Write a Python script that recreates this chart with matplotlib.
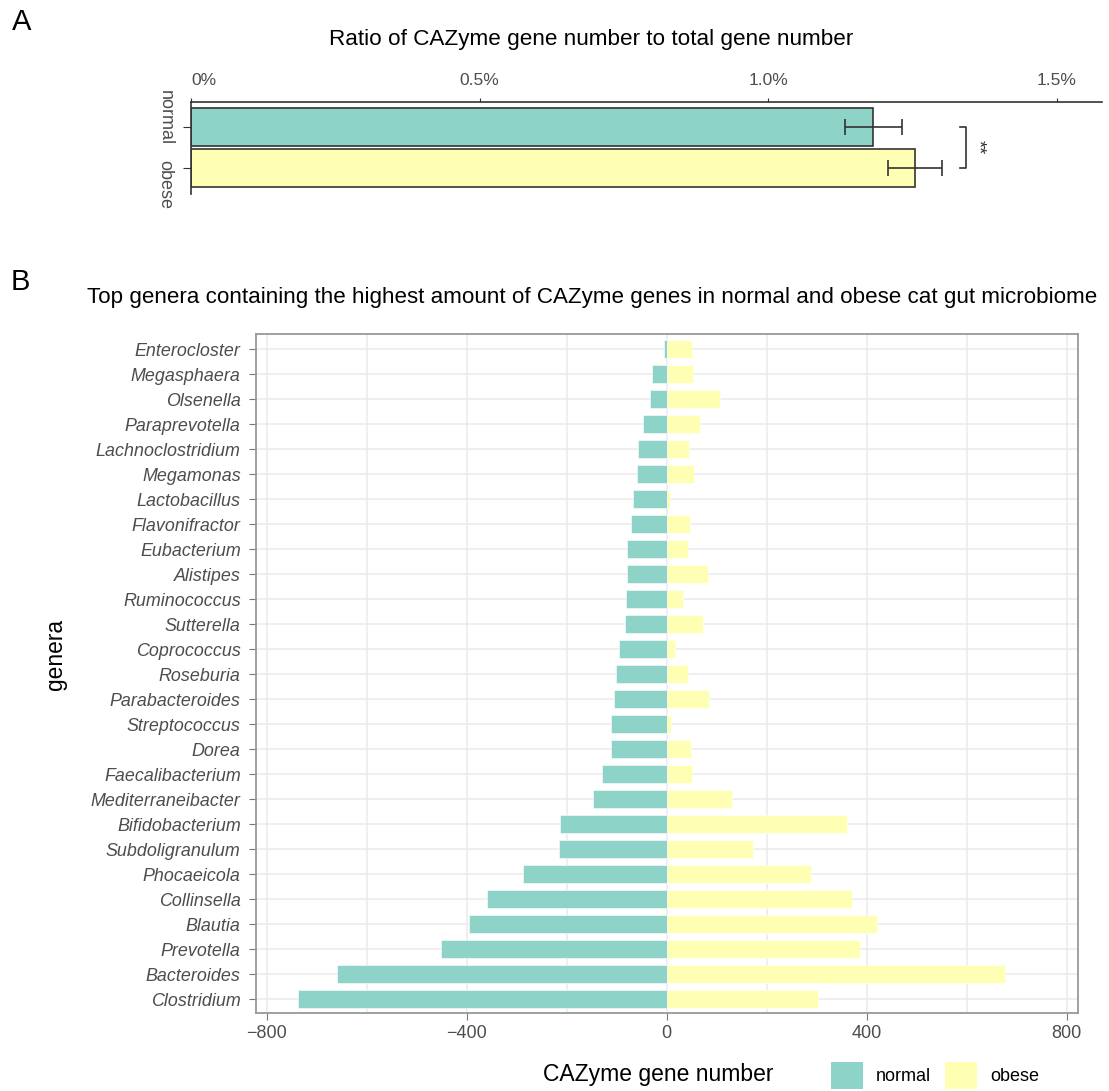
import numpy as np
import matplotlib.pyplot as plt
from matplotlib.patches import Patch
from matplotlib.ticker import FuncFormatter
from matplotlib.transforms import blended_transform_factory

plt.rcParams['font.family'] = ['Liberation Sans', 'DejaVu Sans']

# panel A: CAZyme genes as % of all genes
groups = ['normal', 'obese']
ratio_mean = [1.182, 1.254]
ratio_err = [0.049, 0.046]

# panel B: CAZyme gene counts per genus (top to bottom)
genera = ['Enterocloster', 'Megasphaera', 'Olsenella', 'Paraprevotella',
          'Lachnoclostridium', 'Megamonas', 'Lactobacillus', 'Flavonifractor',
          'Eubacterium', 'Alistipes', 'Ruminococcus', 'Sutterella',
          'Coprococcus', 'Roseburia', 'Parabacteroides', 'Streptococcus',
          'Dorea', 'Faecalibacterium', 'Mediterraneibacter', 'Bifidobacterium',
          'Subdoligranulum', 'Phocaeicola', 'Collinsella', 'Blautia',
          'Prevotella', 'Bacteroides', 'Clostridium']
normal_n = [5, 29, 34, 48, 57, 59, 68, 72, 79, 80, 82, 83, 95, 101, 105,
            111, 111, 129, 147, 214, 216, 287, 359, 396, 452, 659, 737]
obese_n = [50, 53, 106, 66, 45, 55, 7, 47, 42, 83, 33, 73, 17, 42, 85,
           9, 49, 50, 130, 361, 172, 289, 370, 421, 387, 676, 302]

col_normal = '#8DD3C7'
col_obese = '#FFFFB3'
tick_grey = '#4D4D4D'

W, H = 1109, 1091
fig = plt.figure(figsize=(W / 100, H / 100), dpi=100)

# ---------- A ----------
axA = fig.add_axes([191 / W, 1 - 194 / H, (1102 - 191) / W, 92 / H])
ypos = np.arange(len(groups))
axA.barh(ypos, ratio_mean, height=0.92, color=[col_normal, col_obese],
         edgecolor='#333333', linewidth=1.2)
axA.errorbar(ratio_mean, ypos, xerr=ratio_err, fmt='none', ecolor='#333333',
             elinewidth=1.2, capsize=5.5, capthick=1.2)
axA.set_xlim(0, 1.578)
axA.set_ylim(len(groups) - 0.37, -0.61)
axA.xaxis.tick_top()
axA.set_xticks([0, 0.5, 1.0, 1.5])
axA.xaxis.set_major_formatter(FuncFormatter(lambda v, p: '0%' if v == 0 else f'{v:.1f}%'))
axA.get_xticklabels()[0].set_ha('left')
axA.set_yticks(ypos)
axA.set_yticklabels([])
# rotated group labels, pushed apart so they do not collide
trA = blended_transform_factory(axA.transAxes, axA.transData)
for g, dy in zip(groups, [-0.24, 0.41]):
    axA.text(-0.0285, groups.index(g) + dy, g, transform=trA, rotation=270,
             ha='center', va='center', fontsize=13, color=tick_grey)
for s in ['bottom', 'right']:
    axA.spines[s].set_visible(False)
for s in ['top', 'left']:
    axA.spines[s].set_color('#333333')
    axA.spines[s].set_linewidth(1.2)
axA.tick_params(axis='x', length=3, color='#333333', labelcolor=tick_grey,
                labelsize=12.5, pad=7)
axA.tick_params(axis='y', length=6, color='#333333')

# significance bracket
bx = 1.343
axA.plot([bx - 0.011, bx, bx, bx - 0.011], [0, 0, 1, 1], color='#333333',
         lw=1.2, clip_on=False)
axA.text(bx + 0.02, 0.5, '**', rotation=270, ha='center', va='center',
         fontsize=13, color='#333333')

fig.text(22 / W, 1 - 22 / H, 'A', fontsize=21, ha='center', va='center')
fig.text(591 / W, 1 - 40 / H, 'Ratio of CAZyme gene number to total gene number',
         fontsize=16.2, ha='center', va='center')

# ---------- B ----------
axB = fig.add_axes([256 / W, 1 - 1013 / H, 822 / W, 679 / H])
yB = np.arange(len(genera))
axB.barh(yB, -np.array(normal_n), height=0.73, color=col_normal,
         edgecolor='white', linewidth=0.4, label='normal', zorder=3)
axB.barh(yB, obese_n, height=0.73, color=col_obese,
         edgecolor='white', linewidth=0.4, label='obese', zorder=3)
axB.set_xlim(-822, 823)
axB.set_ylim(len(genera) - 0.45, -0.6)
axB.set_xticks([-800, -400, 0, 400, 800])
axB.set_xticklabels(['\u2212800', '\u2212400', '0', '400', '800'])
axB.set_xticks([-600, -200, 200, 600], minor=True)
axB.set_yticks(yB)
axB.set_yticklabels(genera, fontstyle='italic')
axB.grid(True, which='both', color='#EBEBEB', lw=1.1, zorder=0)
axB.set_axisbelow(True)
for s in axB.spines.values():
    s.set_color('#999999')
    s.set_linewidth(1.3)
axB.tick_params(axis='both', which='major', length=5, color='#777777',
                labelcolor=tick_grey, labelsize=12.9)
axB.tick_params(axis='x', which='major', labelsize=13, pad=4)
axB.tick_params(axis='x', which='minor', length=0)
axB.tick_params(axis='y', pad=6)

fig.text(20 / W, 1 - 282 / H, 'B', fontsize=21, ha='center', va='center')
fig.text(87 / W, 1 - 297 / H,
         'Top genera containing the highest amount of CAZyme genes in normal and obese cat gut microbiome',
         fontsize=16.1, ha='left', va='center')
fig.text(56 / W, 1 - 654 / H, 'genera', fontsize=16.4, rotation=90,
         ha='center', va='center')
fig.text(658 / W, 1 - 1075 / H, 'CAZyme gene number', fontsize=16.5,
         ha='center', va='center')

handles = [Patch(facecolor=col_normal, edgecolor='none', label='normal'),
           Patch(facecolor=col_obese, edgecolor='none', label='obese')]
fig.legend(handles=handles, loc='upper left', ncol=2, frameon=False,
           bbox_to_anchor=(831 / W, 1 - 1062 / H), fontsize=13,
           handlelength=1.77, handleheight=1.9, columnspacing=0.78,
           handletextpad=0.72, borderaxespad=0, borderpad=0)

fig.savefig('out.png', dpi=100)
